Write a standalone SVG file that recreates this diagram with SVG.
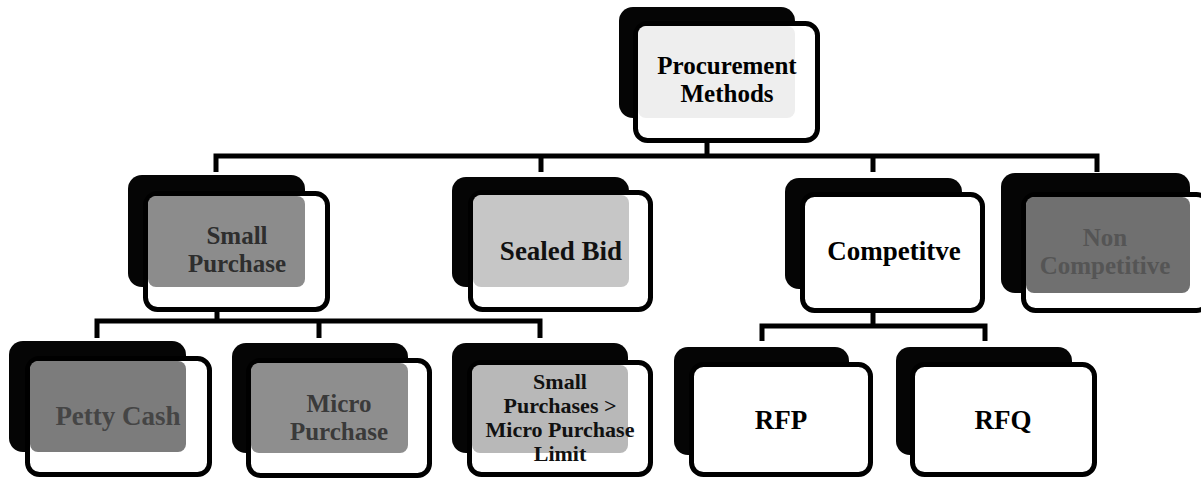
<svg xmlns="http://www.w3.org/2000/svg" width="1201" height="479" viewBox="0 0 1201 479">
  <style>
    .back { fill: #050505; }
    .front { fill: #ffffff; stroke: #000000; stroke-width: 5; }
    .lbl { font-family: "Liberation Serif", "Times New Roman", serif; font-weight: bold; font-size: 27px; text-anchor: middle; fill: #000000; }
    .two { font-size: 25px; }
    .small { font-size: 22px; }
    .wire { fill: none; stroke: #000000; stroke-width: 5; stroke-linejoin: miter; stroke-linecap: butt; }
  </style>
  <rect x="0" y="0" width="1201" height="479" fill="#ffffff"/>

  <!-- connectors -->
  <g id="connectors" class="wire">
    <path d="M707 143 V156"/>
    <path d="M216 172 V156 H1097 V172"/>
    <path d="M541 156 V172"/>
    <path d="M873 156 V172"/>
    <path d="M217 312 V321"/>
    <path d="M97 338 V321 H540 V338"/>
    <path d="M319 321 V338"/>
    <path d="M873 313 V326"/>
    <path d="M762 341 V326 H985 V341"/>
  </g>

  <!-- top -->
  <g id="procurement-methods">
    <rect class="back" x="619" y="7" width="176" height="111" rx="14"/>
    <rect class="front" x="635.5" y="23.5" width="182" height="117" rx="12"/>
    <rect x="638" y="26" width="157" height="92" rx="8" fill="#eeeeee"/>
    <text class="lbl two" x="727" y="74">Procurement</text>
    <text class="lbl two" x="727" y="102">Methods</text>
  </g>

  <!-- level 1 -->
  <g id="small-purchase">
    <rect class="back" x="128" y="175" width="177" height="112" rx="14"/>
    <rect class="front" x="145.5" y="193.5" width="182" height="116" rx="12"/>
    <rect x="148" y="196" width="157" height="91" rx="8" fill="#8c8c8c"/>
    <text class="lbl two" x="237" y="244" style="fill:#2e2e2e">Small</text>
    <text class="lbl two" x="237" y="272" style="fill:#2e2e2e">Purchase</text>
  </g>

  <g id="sealed-bid">
    <rect class="back" x="452" y="177" width="177" height="110" rx="14"/>
    <rect class="front" x="470.5" y="192.5" width="180" height="117" rx="12"/>
    <rect x="473" y="195" width="156" height="92" rx="8" fill="#c6c6c6"/>
    <text class="lbl" x="561" y="260" style="fill:#111111">Sealed Bid</text>
  </g>

  <g id="competitive">
    <rect class="back" x="785" y="178" width="177" height="111" rx="14"/>
    <rect class="front" x="802.5" y="194.5" width="180" height="116" rx="12"/>
    <text class="lbl" x="894" y="260">Competitve</text>
  </g>

  <g id="non-competitive">
    <rect class="back" x="1001" y="173" width="189" height="120" rx="14"/>
    <rect class="front" x="1023.5" y="194.5" width="185" height="116" rx="12"/>
    <rect x="1026" y="197" width="164" height="96" rx="8" fill="#707070"/>
    <text class="lbl two" x="1105" y="246" style="fill:#555555">Non</text>
    <text class="lbl two" x="1105" y="274" style="fill:#555555">Competitive</text>
  </g>

  <!-- level 2 -->
  <g id="petty-cash">
    <rect class="back" x="9" y="341" width="177" height="111" rx="14"/>
    <rect class="front" x="27.5" y="358.5" width="182" height="116" rx="12"/>
    <rect x="30" y="361" width="156" height="91" rx="8" fill="#7c7c7c"/>
    <text class="lbl" x="118" y="425" style="fill:#454545">Petty Cash</text>
  </g>

  <g id="micro-purchase">
    <rect class="back" x="232" y="343" width="176" height="110" rx="14"/>
    <rect class="front" x="248.5" y="360.5" width="181" height="115" rx="12"/>
    <rect x="251" y="363" width="157" height="90" rx="8" fill="#8e8e8e"/>
    <text class="lbl two" x="339" y="412" style="fill:#3a3a3a">Micro</text>
    <text class="lbl two" x="339" y="440" style="fill:#3a3a3a">Purchase</text>
  </g>

  <g id="small-purchases-over-limit">
    <rect class="back" x="452" y="343" width="176" height="110" rx="14"/>
    <rect class="front" x="469.5" y="362.5" width="181" height="112" rx="12"/>
    <rect x="472" y="365" width="156" height="88" rx="8" fill="#b8b8b8"/>
    <text class="lbl small" x="560" y="389" style="fill:#111111">Small</text>
    <text class="lbl small" x="560" y="413" style="fill:#111111">Purchases &gt;</text>
    <text class="lbl small" x="560" y="437" style="fill:#111111">Micro Purchase</text>
    <text class="lbl small" x="560" y="461" style="fill:#111111">Limit</text>
  </g>

  <g id="rfp">
    <rect class="back" x="674" y="347" width="175" height="108" rx="14"/>
    <rect class="front" x="691.5" y="364.5" width="179" height="110" rx="12"/>
    <text class="lbl" x="781" y="429">RFP</text>
  </g>

  <g id="rfq">
    <rect class="back" x="896" y="347" width="176" height="108" rx="14"/>
    <rect class="front" x="912.5" y="364.5" width="182" height="110" rx="12"/>
    <text class="lbl" x="1003" y="429">RFQ</text>
  </g>
</svg>
